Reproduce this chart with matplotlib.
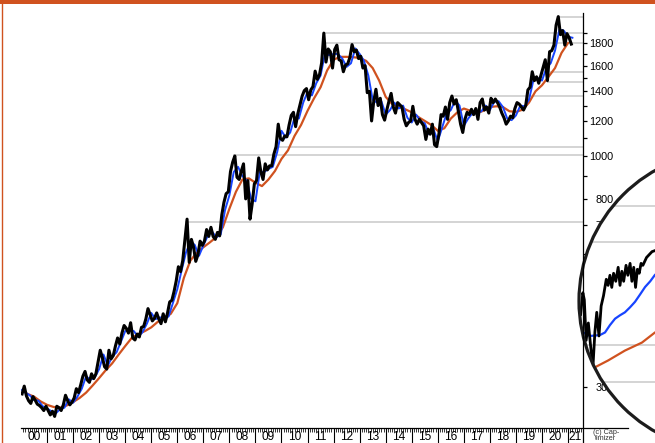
import numpy as np
import matplotlib
matplotlib.use('Agg')
import matplotlib.pyplot as plt
from matplotlib.patches import Ellipse, Rectangle
from matplotlib.lines import Line2D
from matplotlib.ticker import FixedLocator, NullFormatter, FixedFormatter

plt.rcParams['font.family'] = ['Liberation Sans', 'DejaVu Sans']

# ---------------- data (USD / oz, monthly, Jan 2000 .. Feb 2021) ----------------
gold_close = [
    290, 302, 287, 280, 276, 286, 281, 275, 273, 270, 266, 272,          # 2000
    266, 260, 265, 258, 272, 270, 266, 274, 288, 280, 274, 278,          # 2001
    284, 298, 292, 304, 318, 326, 312, 308, 322, 314, 322, 342,          # 2002
    364, 350, 334, 330, 364, 348, 354, 372, 388, 376, 398, 414,          # 2003
    408, 398, 420, 388, 384, 396, 390, 410, 412, 428, 452, 438,          # 2004
    424, 430, 442, 428, 418, 440, 422, 442, 468, 472, 494, 522,          # 2005
    562, 548, 580, 645, 720, 575, 648, 622, 578, 598, 642, 628,          # 2006
    642, 682, 658, 690, 658, 648, 672, 660, 736, 786, 822, 830,          # 2007
    922, 968, 1000, 895, 885, 925, 960, 800, 880, 720, 780, 865,         # 2008
    880, 990, 920, 885, 960, 930, 950, 950, 1010, 1050, 1180, 1095,      # 2009
    1085, 1110, 1105, 1175, 1235, 1255, 1165, 1245, 1305, 1365, 1405, 1420,  # 2010
    1340, 1410, 1435, 1555, 1490, 1525, 1625, 1895, 1630, 1745, 1720, 1580,  # 2011
    1740, 1780, 1650, 1640, 1550, 1605, 1615, 1670, 1785, 1720, 1735, 1660,  # 2012
    1680, 1580, 1600, 1390, 1400, 1200, 1330, 1415, 1300, 1350, 1240, 1205,  # 2013
    1270, 1330, 1385, 1290, 1250, 1320, 1305, 1290, 1210, 1170, 1190, 1200,  # 2014
    1295, 1210, 1180, 1210, 1190, 1170, 1090, 1150, 1120, 1180, 1060, 1050,  # 2015
    1120, 1240, 1230, 1290, 1210, 1320, 1366, 1310, 1340, 1260, 1180, 1130,  # 2016
    1210, 1255, 1240, 1275, 1240, 1280, 1210, 1320, 1345, 1270, 1290, 1250,  # 2017
    1350, 1320, 1345, 1320, 1290, 1250, 1220, 1180, 1200, 1230, 1220, 1280,  # 2018
    1320, 1310, 1290, 1270, 1300, 1410, 1430, 1550, 1480, 1510, 1460, 1520,  # 2019
    1580, 1650, 1480, 1720, 1730, 1780, 1975, 2065, 1880, 1920, 1780, 1890,  # 2020
    1850, 1790,                                                          # 2021
]
gold_dates = 2000 + (np.arange(len(gold_close)) + 0.5) / 12

# short moving average (blue), every second month
ma_short_dates = [2000.04] + [2000 + (2 * k + 2) / 12 for k in range(127)]
ma_short = [
    296,
    292, 288, 281, 280, 272, 269,
    265, 262, 268, 270, 282, 277,
    286, 298, 318, 312, 316, 330,
    356, 336, 352, 360, 380, 402,
    405, 402, 390, 400, 418, 442,
    428, 432, 428, 434, 466, 500,
    552, 605, 640, 630, 595, 628,
    660, 675, 655, 665, 755, 815,
    920, 945, 900, 880, 800, 790,
    920, 920, 935, 945, 1020, 1140,
    1100, 1130, 1220, 1215, 1320, 1395,
    1370, 1460, 1520, 1700, 1690, 1700,
    1700, 1660, 1590, 1620, 1750, 1700,
    1640, 1520, 1340, 1320, 1330, 1240,
    1270, 1320, 1280, 1300, 1220, 1190,
    1240, 1200, 1185, 1120, 1150, 1080,
    1160, 1245, 1270, 1335, 1300, 1170,
    1215, 1250, 1260, 1260, 1300, 1270,
    1325, 1330, 1290, 1215, 1205, 1235,
    1300, 1295, 1340, 1480, 1500, 1480,
    1580, 1620, 1730, 1930, 1920, 1860,
    1850,
]

# long moving average (orange), quarterly
ma_long_dates = [2000.25 + 0.25 * k for k in range(84)]
ma_long = [
    290, 286, 279, 274, 271, 270, 273, 278, 284, 292, 303, 315,
    328, 340, 356, 372, 388, 396, 402, 410, 422, 430, 440, 465,
    530, 580, 605, 622, 638, 656, 690, 760, 830, 885, 890, 870,
    855, 885, 925, 985, 1030, 1110, 1175, 1265, 1350, 1430, 1560, 1650,
    1675, 1675, 1672, 1665, 1640, 1580, 1480, 1360, 1310, 1290, 1275, 1255,
    1225, 1200, 1175, 1140, 1155, 1215, 1255, 1280, 1265, 1250, 1265, 1290,
    1295, 1290, 1262, 1258, 1272, 1320, 1400, 1445, 1510, 1580, 1710, 1800,
]

# support / resistance levels and the dates they start from
level_values = [2061, 1897, 1800, 1550, 1469, 1366, 1048, 1005, 710]
level_starts = [2020.58, 2011.65, 2011.70, 2020.30, 2020.21, 2016.58, 2009.87, 2008.14, 2006.30]

y_major = [300, 400, 500, 600, 700, 800, 1000, 1200, 1400, 1600, 1800]
y_minor = [900, 1100, 1300, 1500, 1700, 1900]
years = list(range(2000, 2022))
year_labels = ['%02d' % (y - 2000) for y in years]

# magnifier excerpt (Feb - Jul 2020)
mag_dates = [2020.140, 2020.152, 2020.160, 2020.170, 2020.182, 2020.195, 2020.207,
             2020.218, 2020.228, 2020.240, 2020.252, 2020.265, 2020.280, 2020.290,
             2020.300, 2020.310, 2020.320, 2020.332, 2020.345, 2020.355, 2020.365,
             2020.375, 2020.388, 2020.398, 2020.410, 2020.420, 2020.430, 2020.440,
             2020.450, 2020.460, 2020.470, 2020.480, 2020.500, 2020.530, 2020.560]
mag_price = [1620, 1672, 1655, 1560, 1600, 1545, 1500,
             1580, 1625, 1570, 1640, 1665, 1705, 1690,
             1715, 1685, 1720, 1700, 1735, 1690, 1725,
             1700, 1740, 1715, 1745, 1700, 1735, 1685,
             1730, 1720, 1745, 1740, 1760, 1775, 1780]
mag_short_dates = [2020.14, 2020.164, 2020.19, 2020.218, 2020.245, 2020.273, 2020.30, 2020.328,
                   2020.355, 2020.382, 2020.41, 2020.437, 2020.465, 2020.492, 2020.52, 2020.546, 2020.57]
mag_short = [1580, 1576, 1570, 1571, 1572, 1578, 1595, 1610,
             1618, 1625, 1637, 1650, 1668, 1686, 1700, 1716, 1725]
mag_long_dates = [2020.13, 2020.218, 2020.29, 2020.382, 2020.475, 2020.546, 2020.58]
mag_long = [1490, 1500, 1515, 1537, 1555, 1578, 1585]
mag_levels = [1897, 1800, 1550, 1469, 1366]

# ---------------- figure ----------------
W, H = 655, 443
fig = plt.figure(figsize=(W / 100, H / 100), dpi=100)
fig.patch.set_facecolor('white')

def fx(px):
    return px / W

def fy(py):
    return 1 - py / H

ORANGE = '#d0521f'
BLUE = '#1744ff'
GRID = '#c9c9c9'

ax = fig.add_axes([fx(21), fy(428), fx(583) - fx(21), fy(13) - fy(428)])
ax.set_yscale('log')
ax.set_xlim(2000.0, 2021.574)
ax.set_ylim(242.9, 2104)
for s in ax.spines.values():
    s.set_visible(False)

ax.hlines(level_values, level_starts, 2021.574, color=GRID, lw=1.1, zorder=1)
ax.plot(ma_long_dates, ma_long, color=ORANGE, lw=1.6, zorder=2)
ax.plot(ma_short_dates, ma_short, color=BLUE, lw=1.4, zorder=3)
ax.plot(gold_dates, gold_close, color='black', lw=2.2, zorder=4)

# y axis (right), labels right-aligned
ax.yaxis.set_ticks_position('right')
ax.yaxis.set_major_locator(FixedLocator(y_major))
ax.yaxis.set_minor_locator(FixedLocator(y_minor))
ax.yaxis.set_major_formatter(FixedFormatter([str(v) for v in y_major]))
ax.yaxis.set_minor_formatter(NullFormatter())
ax.tick_params(axis='y', which='both', direction='out', length=2.6, width=0.9,
               labelsize=7.8, pad=19.2, colors='black')
for lab in ax.get_yticklabels():
    lab.set_horizontalalignment('right')

# x axis ruler
ax.xaxis.set_major_locator(FixedLocator(years[1:]))
ax.xaxis.set_minor_locator(FixedLocator(list(np.arange(2000 + 1 / 12, 2021.57, 1 / 12))))
ax.xaxis.set_major_formatter(NullFormatter())
ax.tick_params(axis='x', which='major', direction='out', length=10.8, width=0.8)
ax.tick_params(axis='x', which='minor', direction='out', length=2.9, width=0.55)
for y, lab in zip(years, year_labels):
    xc = y + 0.5 if y < 2021 else (2021 + 2021.574) / 2
    ax.text(xc, -9.5 / 415, lab, transform=ax.get_xaxis_transform(),
            ha='center', va='center', fontsize=8.6)

# axis lines
fig.add_artist(Line2D([fx(583), fx(583)], [fy(13), fy(443)], color='black', lw=0.9, zorder=6))
fig.add_artist(Line2D([fx(21), fx(628)], [fy(428), fy(428)], color='black', lw=0.9, zorder=6))

# magnifier
cx, cy, r = 729, 301, 150
fill = Ellipse((fx(cx), fy(cy)), 2 * r / W, 2 * r / H, transform=fig.transFigure,
               facecolor='white', edgecolor='none', zorder=2)
fig.add_artist(fill)
axm = fig.add_axes([fx(579), fy(451), 300 / W, 300 / H])
axm.set_zorder(3)
axm.patch.set_visible(False)
axm.axis('off')
axm.set_yscale('log')
axm.set_xlim(2020.131, 2021.77)
axm.set_ylim(1328, 2055)
arts = []
for lv in mag_levels:
    arts.append(axm.axhline(lv, color=GRID, lw=1.1))
arts += axm.plot(mag_long_dates, mag_long, color=ORANGE, lw=1.6)
arts += axm.plot(mag_short_dates, mag_short, color=BLUE, lw=1.6)
arts += axm.plot(mag_dates, mag_price, color='black', lw=2.0)
for a in arts:
    a.set_clip_path(fill)
edge = Ellipse((fx(cx), fy(cy)), 2 * r / W, 2 * r / H, transform=fig.transFigure,
               facecolor='none', edgecolor='#1c1c1c', lw=2.3, zorder=4)
fig.add_artist(edge)

fig.text(fx(606), fy(435.5), '(c) Cap-\ntimizer', ha='center', va='center',
         fontsize=5.2, linespacing=0.95, color='#333333', zorder=7)

# frame decoration
fig.add_artist(Rectangle((0, fy(3.5)), 1, 3.5 / H, transform=fig.transFigure,
                         facecolor=ORANGE, edgecolor='none', zorder=8))
fig.add_artist(Line2D([fx(2), fx(2)], [0, 1], color=ORANGE, lw=1.0, zorder=8))

fig.savefig('out.png', dpi=100)
